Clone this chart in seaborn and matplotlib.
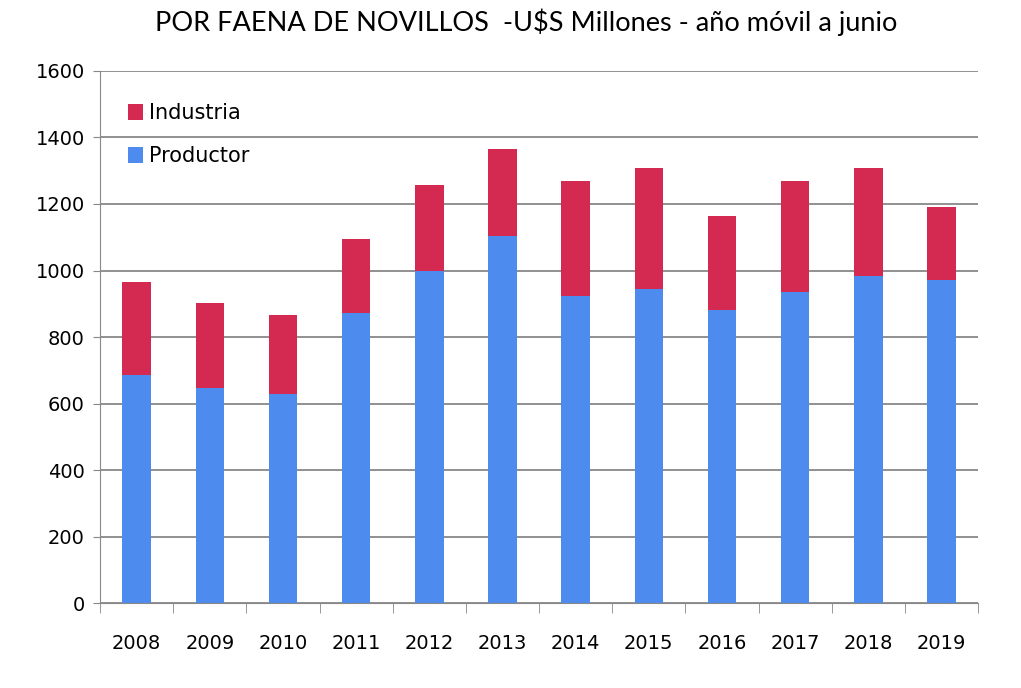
import pandas as pd
import matplotlib.pyplot as plt
import seaborn as sns

# Values (US$ millions)
years = ["2008", "2009", "2010", "2011", "2012", "2013",
         "2014", "2015", "2016", "2017", "2018", "2019"]
productor = [687, 648, 630, 873, 998, 1103, 925, 945, 880, 935, 985, 973]
total = [965, 903, 865, 1095, 1258, 1365, 1270, 1308, 1163, 1270, 1308, 1190]
industria = [t - p for t, p in zip(total, productor)]

df = pd.DataFrame({"year": years, "Productor": productor,
                   "Industria": industria, "total": total})

sns.set_style("white")
plt.rcParams['font.family'] = ['DejaVu Sans']

fig = plt.figure(figsize=(10.21, 6.88), dpi=100)
ax = fig.add_axes([0.098, 0.123, 0.86, 0.774])

red = "#D42A52"
blue = "#4D8CEE"

# stacked: draw totals in red, then producer share in blue over it
sns.barplot(data=df, x="year", y="total", color=red, width=0.39,
            saturation=1, linewidth=0, ax=ax, label="Industria")
sns.barplot(data=df, x="year", y="Productor", color=blue, width=0.39,
            saturation=1, linewidth=0, ax=ax, label="Productor")

ax.set_ylim(0, 1600)
ax.set_xlim(-0.5, 11.5)
ax.set_yticks(range(0, 1601, 200))
ax.yaxis.grid(True, color="#888888", linewidth=1.3)
ax.set_axisbelow(True)

for s in ["top", "right"]:
    ax.spines[s].set_visible(False)
ax.spines["left"].set_color("#888888")
ax.spines["bottom"].set_color("#888888")

ax.tick_params(axis="y", left=True, length=5, color="#888888",
               labelsize=14, labelcolor="black", pad=6)
ax.tick_params(axis="x", length=0, labelsize=14, labelcolor="black", pad=22)
# x ticks between categories, pointing down
ax.set_xticks([i - 0.5 for i in range(13)], minor=True)
ax.tick_params(axis="x", which="minor", bottom=True, length=7,
               color="#888888", direction="out")

ax.set_xlabel("")
ax.set_ylabel("")

fig.text(0.515, 0.967, "POR FAENA DE NOVILLOS  -U$S Millones - año móvil a junio",
         ha="center", va="center", fontsize=19.5, family="Lato", color="black")

leg = ax.legend(loc="upper left", bbox_to_anchor=(0.01, 0.975), frameon=False,
                fontsize=15, handlelength=0.75, handleheight=0.8,
                handletextpad=0.3, labelspacing=1.1)
for t in leg.get_texts():
    t.set_color("black")

fig.savefig("out.png", dpi=100)
plt.close()
